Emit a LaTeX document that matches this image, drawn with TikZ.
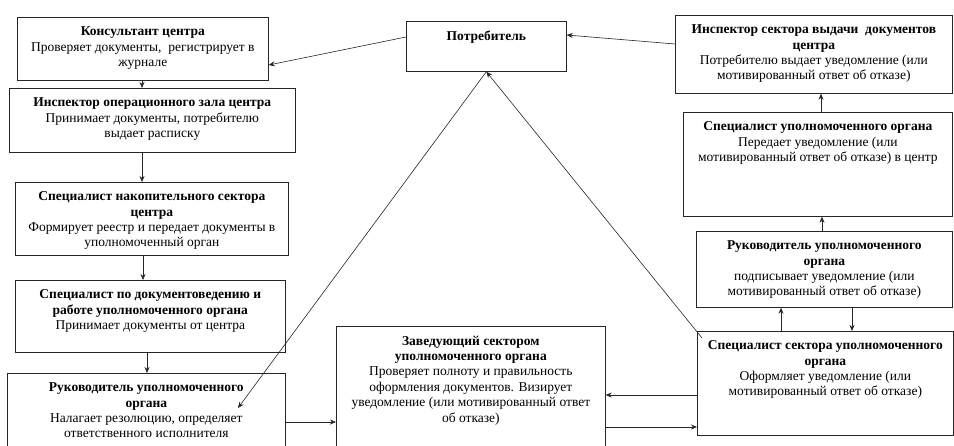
\documentclass[tikz,border=0pt]{standalone}
\usepackage{fontspec}
\setmainfont{Liberation Serif}
\usetikzlibrary{arrows.meta}
\newcommand\boxtxt[3]{\parbox[t][#2][t]{#1}{\centering\vspace*{9.5pt}#3\par}}
\tikzset{
  x=1pt, y=-1pt,
  blk/.style={draw=black!85, line width=0.7pt, inner sep=0pt, anchor=north west,
    font=\fontsize{13.5}{15.4}\selectfont},
  arr/.style={draw=black!85, line width=0.6pt, -{Stealth[length=6pt,width=5pt]}}
}
\begin{document}
\begin{tikzpicture}
\useasboundingbox (0,0) rectangle (954,445);
\clip (0,0) rectangle (954,445);
\fill[white] (0,0) rectangle (954,445);

\node[blk] (kons) at (17,17) {\boxtxt{251pt}{63pt}{\textbf{Консультант центра}\\ Проверяет документы,\ \ регистрирует в\\ журнале}};
\node[blk] (insp) at (9,88) {\boxtxt{286pt}{64pt}{\textbf{Инспектор операционного зала центра}\\ Принимает документы, потребителю\\ выдает расписку}};
\node[blk] (nak) at (15,182) {\boxtxt{273pt}{73pt}{\textbf{Специалист накопительного сектора}\\ \textbf{центра}\\ Формирует реестр и передает документы в\\ уполномоченный орган}};
\node[blk] (doc) at (15,280) {\boxtxt{270pt}{72pt}{\textbf{Специалист по документоведению и}\\ \textbf{работе уполномоченного органа}\\ Принимает документы от центра}};
\node[blk] (rukL) at (7,373) {\boxtxt{278pt}{90pt}{\textbf{Руководитель уполномоченного}\\ \textbf{органа}\\ Налагает резолюцию, определяет\\ ответственного исполнителя}};
\node[blk] (zav) at (336,326) {\boxtxt{269pt}{130pt}{\textbf{Заведующий сектором}\\ \textbf{уполномоченного органа}\\ Проверяет полноту и правильность\\ оформления документов. Визирует\\ уведомление (или мотивированный ответ\\ об отказе)}};
\node[blk] (potr) at (406,21) {\boxtxt{160pt}{50pt}{\textbf{Потребитель}}};
\node[blk] (insV) at (675,15) {\boxtxt{277pt}{78pt}{\textbf{Инспектор сектора выдачи\ \ документов}\\ \textbf{центра}\\ Потребителю выдает уведомление (или\\ мотивированный ответ об отказе)}};
\node[blk] (spU) at (683,112) {\boxtxt{269pt}{104pt}{\textbf{Специалист уполномоченного органа}\\ Передает уведомление (или\\ мотивированный ответ об отказе) в центр}};
\node[blk] (rukR) at (696,231) {\boxtxt{256pt}{76pt}{\textbf{Руководитель уполномоченного}\\ \textbf{органа}\\ подписывает уведомление (или\\ мотивированный ответ об отказе)}};
\node[blk] (spS) at (697,331) {\boxtxt{256pt}{104pt}{\textbf{Специалист сектора уполномоченного}\\ \textbf{органа}\\ Оформляет уведомление (или\\ мотивированный ответ об отказе)}};

% left column
\draw[arr] (potr.west |- 0,37) -- (kons.east |- 0,65);
\draw[arr] (142,0 |- kons.south) -- (142,0 |- insp.north);
\draw[arr] (142,0 |- insp.south) -- (142,0 |- nak.north);
\draw[arr] (143,0 |- nak.south) -- (143,0 |- doc.north);
\draw[arr] (147,0 |- doc.south) -- (147,0 |- rukL.north);
\draw[arr] (rukL.east |- 0,422) -- (zav.west |- 0,422);
% centre
\draw[arr] (potr.south) -- ([xshift=231pt,yshift=-35pt]rukL.north west);
\draw[arr] ([xshift=5pt,yshift=-7pt]spS.north west) -- (potr.south);
\draw[arr] (spS.west |- 0,395) -- (zav.east |- 0,395);
\draw[arr] (zav.east |- 0,427) -- (spS.west |- 0,427);
% right column
\draw[arr] (insV.west |- 0,44) -- (potr.east |- 0,35);
\draw[arr] (821,0 |- spU.north) -- (821,0 |- insV.south);
\draw[arr] (822,0 |- rukR.north) -- (822,0 |- spU.south);
\draw[arr] (781,0 |- spS.north) -- (781,0 |- rukR.south);
\draw[arr] (852,0 |- rukR.south) -- (852,0 |- spS.north);
\end{tikzpicture}
\end{document}
